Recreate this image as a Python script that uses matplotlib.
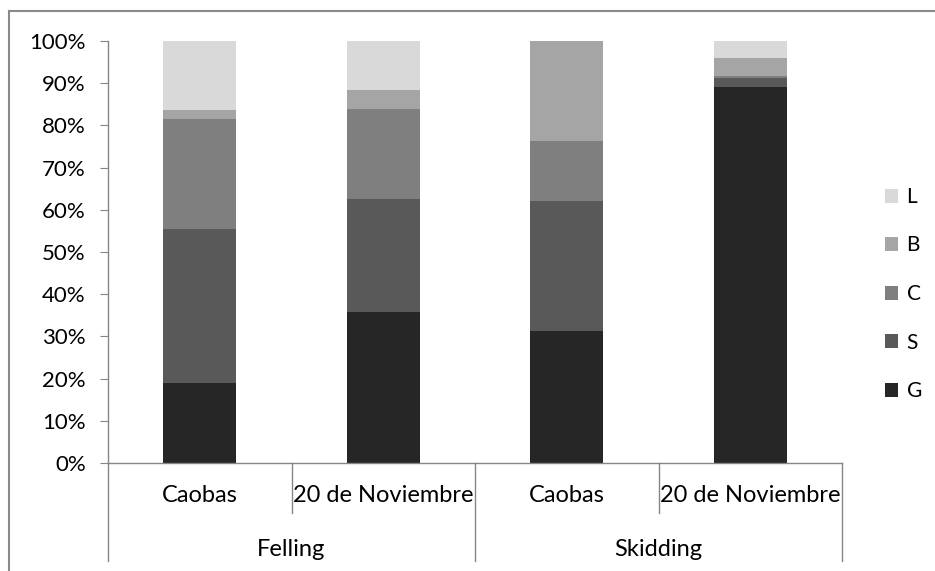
import matplotlib
matplotlib.use("Agg")
import matplotlib.pyplot as plt
from matplotlib.lines import Line2D
from matplotlib.patches import Patch
import numpy as np

sites = ["Caobas", "20 de Noviembre", "Caobas", "20 de Noviembre"]
groups = ["Felling", "Skidding"]
series = ["G", "S", "C", "B", "L"]
G = [19.0, 35.9, 31.3, 89.0]
S = [36.5, 26.7, 30.8, 2.2]
C = [26.1, 21.4, 14.2, 0.5]
B = [2.0, 4.4, 23.7, 4.3]
L = [16.4, 11.6, 0.0, 4.0]
values = [G, S, C, B, L]
colors = ["#262626", "#595959", "#7f7f7f", "#a5a5a5", "#d9d9d9"]
yticks = [0, 10, 20, 30, 40, 50, 60, 70, 80, 90, 100]

plt.rcParams['font.family'] = ['Lato', 'DejaVu Sans']
W, H = 935, 571
fig = plt.figure(figsize=(W / 100, H / 100), dpi=100)
ax = fig.add_axes([108 / W, 1 - 463 / H, (842 - 108) / W, (463 - 41) / H])

x = np.arange(len(sites))
bottom = np.zeros(len(sites))
for name, vals, col in zip(series, values, colors):
    v = np.array(vals) / 100.0
    ax.bar(x, v, width=0.40, bottom=bottom, color=col, label=name, linewidth=0)
    bottom += v

ax.set_xlim(-0.5, len(sites) - 0.5)
ax.set_ylim(0, 1)
ax.set_yticks([t / 100 for t in yticks])
ax.set_yticklabels([f"{t}%" for t in yticks], fontsize=16, color="#000000")
ax.set_xticks([])
for s in ["top", "right"]:
    ax.spines[s].set_visible(False)
for s in ["left", "bottom"]:
    ax.spines[s].set_color("#868686")
    ax.spines[s].set_linewidth(1)
ax.tick_params(axis="y", length=6, color="#868686", pad=10)

# category labels and dividers
gray = "#868686"
short_y = -0.118
long_y = -0.232
for i, s in enumerate(sites):
    ax.text(i, -0.078, s, ha="center", va="center", fontsize=17,
            transform=ax.get_xaxis_transform())
for i in [1, 3]:
    xp = i - 0.5
    ax.add_line(Line2D([xp, xp], [0, short_y], color=gray, lw=1,
                       transform=ax.get_xaxis_transform(), clip_on=False))
for xp in [-0.5, 1.5, 3.5]:
    ax.add_line(Line2D([xp, xp], [0, long_y], color=gray, lw=1,
                       transform=ax.get_xaxis_transform(), clip_on=False))
for gi, g in enumerate(groups):
    ax.text(gi * 2 + 0.5, -0.204, g, ha="center", va="center", fontsize=17,
            transform=ax.get_xaxis_transform())

# legend (reversed order)
handles = [Patch(facecolor=c, edgecolor="none") for c in colors][::-1]
labels = series[::-1]
leg = fig.legend(handles, labels, loc="center left",
                 bbox_to_anchor=(866 / W, 1 - 294 / H), frameon=False,
                 fontsize=15, handlelength=0.65, handleheight=0.65,
                 handletextpad=0.4, labelspacing=1.37)

# outer chart border (top and left visible)
fig.add_artist(Line2D([9 / W, 1.0], [1 - 11 / H, 1 - 11 / H], color="#8a8a8a",
                      lw=1.5, transform=fig.transFigure))
fig.add_artist(Line2D([9 / W, 9 / W], [0, 1 - 11 / H], color="#8a8a8a",
                      lw=1.5, transform=fig.transFigure))

fig.savefig("out.png", dpi=100)
